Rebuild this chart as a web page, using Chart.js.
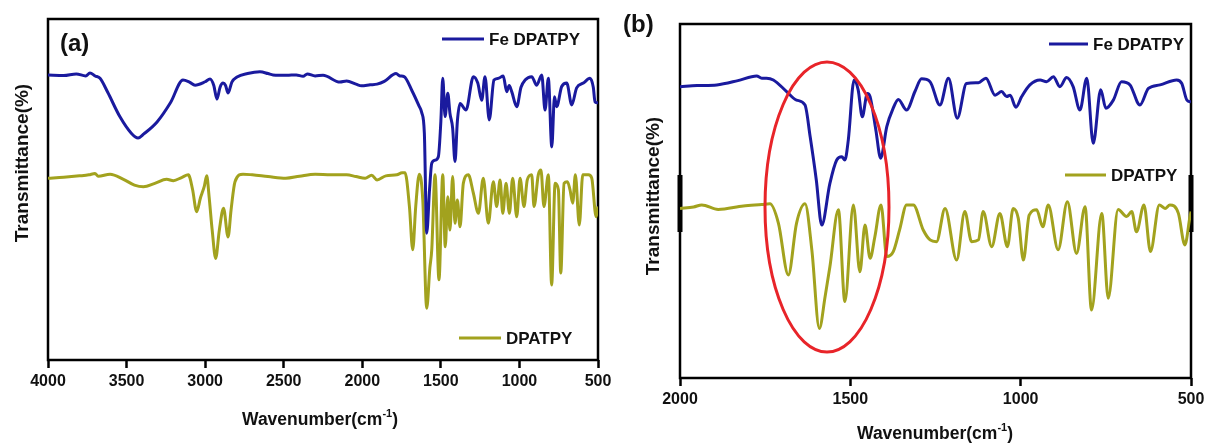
<!DOCTYPE html>
<html>
<head>
<meta charset="utf-8">
<script src="https://cdn.jsdelivr.net/npm/chart.js@4/dist/chart.umd.min.js"></script>
<style>
    html, body { margin: 0; padding: 0; background: #ffffff; }
    #wrap { position: relative; width: 1205px; height: 444px; }
    #wrap canvas { position: absolute; left: 0; top: 0; }
</style>
</head>
<body>
<div id="wrap">
    <canvas id="chartA" width="1205" height="444"></canvas>
    <canvas id="chartB" width="1205" height="444"></canvas>
</div>
<script>
/* ========================================
   FTIR spectra - Fe DPATPY vs DPATPY
   ======================================== */

// Tick labels (wavenumber, cm-1)
const ticksA = [4000, 3500, 3000, 2500, 2000, 1500, 1000, 500];
const ticksB = [2000, 1500, 1000, 500];

// Panel (a): Fe DPATPY
const feWaveA = [4000, 3900, 3820, 3760, 3733, 3700, 3669, 3620, 3542, 3470, 3427, 3390, 3306, 3220, 3141, 3100,
    3064, 3000, 2969, 2945, 2925, 2905, 2886, 2870, 2854, 2830, 2797, 2730, 2651, 2600, 2568, 2480, 2420, 2377,
    2350, 2300, 2250, 2142, 2100, 2040, 2005, 1950, 1906, 1860, 1785, 1760, 1734, 1683, 1639, 1622, 1605, 1590,
    1572, 1558, 1537, 1516, 1500, 1488, 1473, 1456, 1442, 1425, 1410, 1395, 1378, 1340, 1293, 1265, 1240, 1219,
    1192, 1162, 1134, 1103, 1081, 1065, 1049, 1017, 990, 964, 922, 890, 858, 837, 816, 794, 777, 763, 731, 699,
    667, 636, 593, 551, 530, 519, 500];
const feTransA = [83.6, 83.4, 83.9, 83.3, 84.2, 83.3, 82.6, 78.5, 71.3, 66.5, 65.1, 66.3, 69.8, 75.5, 82.1, 81.5,
    80.6, 81.6, 82.4, 80.5, 76.5, 80.0, 81.2, 80.5, 78.3, 81.5, 83.0, 84.0, 84.5, 84.0, 83.6, 83.5, 83.6, 83.2,
    83.9, 83.3, 83.5, 81.5, 81.8, 80.9, 80.4, 80.7, 80.9, 81.7, 84.0, 83.3, 83.1, 78.9, 74.5, 72.6, 66.5, 37.2,
    50.0, 57.7, 58.6, 59.6, 70.0, 82.6, 71.4, 78.2, 72.3, 68.0, 58.2, 70.0, 75.2, 73.3, 83.1, 81.2, 76.2, 83.1,
    70.4, 82.1, 82.6, 83.3, 78.7, 80.5, 78.7, 74.3, 80.0, 82.1, 83.1, 80.6, 83.6, 73.3, 82.6, 62.5, 77.2, 74.3,
    80.2, 81.2, 74.8, 79.8, 81.2, 82.6, 80.0, 75.7, 75.4];

// Panel (a): DPATPY
const dpWaveA = [4000, 3900, 3800, 3740, 3701, 3680, 3605, 3520, 3450, 3393, 3320, 3245, 3202, 3150, 3107, 3080,
    3054, 3030, 3020, 3005, 2990, 2975, 2955, 2933, 2910, 2883, 2854, 2835, 2810, 2759, 2700, 2600, 2487, 2400,
    2300, 2200, 2100, 2040, 1982, 1940, 1906, 1850, 1780, 1747, 1728, 1700, 1679, 1660, 1637, 1615, 1590, 1570,
    1558, 1537, 1512, 1488, 1472, 1456, 1442, 1425, 1410, 1395, 1378, 1357, 1325, 1293, 1261, 1230, 1198, 1166,
    1145, 1123, 1106, 1085, 1064, 1043, 1017, 996, 971, 950, 922, 907, 880, 863, 844, 816, 795, 773, 752, 737,
    716, 695, 678, 661, 644, 619, 597, 561, 540, 512, 500];
const dpTransA = [53.3, 53.6, 54.0, 54.3, 54.7, 53.9, 54.5, 53.0, 51.3, 50.8, 51.8, 53.0, 52.6, 53.5, 54.3, 50.0,
    43.5, 47.5, 48.9, 51.0, 54.0, 48.0, 38.0, 29.8, 38.0, 44.5, 36.1, 44.0, 52.3, 54.5, 54.3, 53.8, 53.3, 53.9,
    54.5, 54.3, 54.3, 53.8, 53.3, 54.2, 52.8, 54.0, 54.3, 54.9, 54.9, 45.0, 32.3, 45.0, 54.5, 46.9, 15.2, 27.0,
    32.3, 54.3, 23.5, 54.3, 33.2, 47.9, 38.1, 53.8, 40.1, 46.9, 39.1, 51.8, 54.3, 48.9, 43.0, 53.3, 40.1, 52.3,
    45.0, 52.8, 43.0, 51.8, 43.0, 53.3, 42.0, 53.3, 45.0, 52.8, 54.3, 45.0, 54.3, 55.7, 45.0, 54.3, 22.0, 51.8,
    49.9, 25.5, 51.8, 52.3, 49.9, 46.0, 54.3, 39.6, 54.3, 54.3, 53.4, 42.0, 45.0];

// Panel (b): Fe DPATPY
const feWaveB = [2000, 1950, 1892, 1830, 1775, 1760, 1746, 1726, 1687, 1658, 1633, 1618, 1600, 1584, 1560, 1540,
    1525, 1516, 1506, 1489, 1477, 1465, 1450, 1442, 1425, 1411, 1393, 1375, 1359, 1335, 1310, 1291, 1266, 1237,
    1212, 1186, 1159, 1124, 1102, 1075, 1056, 1041, 1031, 1014, 997, 973, 943, 924, 904, 885, 865, 846, 826,
    806, 787, 765, 750, 728, 704, 679, 650, 625, 591, 542, 527, 512, 500];
const feTransB = [82.3, 82.6, 82.8, 84.0, 85.3, 84.7, 84.7, 84.2, 80.9, 78.5, 77.1, 68.2, 56.0, 43.2, 55.0, 61.6,
    62.5, 61.6, 67.2, 84.2, 81.4, 73.8, 80.4, 79.5, 70.0, 62.1, 71.0, 76.0, 78.7, 75.7, 81.0, 84.5, 83.7, 77.1,
    84.7, 73.4, 83.2, 83.4, 84.7, 79.9, 80.9, 79.5, 79.9, 76.5, 79.5, 82.8, 84.2, 83.7, 85.1, 82.3, 84.9, 82.3,
    75.7, 84.7, 66.3, 81.4, 76.2, 78.5, 83.7, 82.8, 77.1, 81.8, 82.8, 84.2, 83.2, 78.5, 78.0];

// Panel (b): DPATPY
const dpWaveB = [2000, 1960, 1936, 1888, 1814, 1760, 1736, 1711, 1682, 1658, 1633, 1613, 1591, 1574, 1560, 1535,
    1516, 1491, 1472, 1457, 1442, 1428, 1410, 1393, 1374, 1355, 1335, 1315, 1286, 1266, 1247, 1222, 1188, 1164,
    1144, 1124, 1110, 1085, 1061, 1039, 1022, 1007, 992, 975, 953, 935, 919, 890, 863, 836, 811, 792, 762, 743,
    714, 689, 674, 660, 638, 619, 593, 576, 562, 537, 518, 503, 500];
const dpTransB = [47.9, 48.3, 48.9, 47.6, 48.6, 49.0, 49.2, 43.7, 29.1, 43.7, 49.2, 36.2, 14.0, 23.0, 31.4, 47.5,
    21.6, 48.9, 30.0, 43.2, 33.8, 39.9, 48.9, 34.3, 35.7, 42.0, 48.9, 48.9, 41.8, 39.0, 38.5, 47.9, 33.3, 47.0,
    38.5, 39.0, 47.0, 37.1, 46.5, 37.1, 47.9, 45.1, 33.3, 46.0, 47.5, 42.7, 48.9, 36.2, 49.8, 35.2, 48.4, 19.2,
    46.5, 22.5, 47.6, 45.6, 47.0, 41.3, 48.9, 35.7, 48.9, 47.9, 48.9, 46.5, 37.6, 45.6, 47.0];

const seriesNames = ['Fe DPATPY', 'DPATPY'];
const blueColor = '#1a1a9e';
const oliveColor = '#a2a21e';
const FONT = '"Liberation Sans", Arial, sans-serif';

function toPoints(xs, ys) {
    return xs.map((x, i) => ({ x: x, y: ys[i] }));
}

// Frame, titles, legend entries and extra marks drawn on top of the chart
function decorPlugin(cfg) {
    return {
        id: 'decor',
        beforeDatasetsDraw(chart) {
            const ctx = chart.ctx;
            const a = chart.chartArea;
            ctx.save();
            ctx.strokeStyle = '#000000';
            ctx.lineWidth = 2.5;
            ctx.strokeRect(a.left, a.top, a.right - a.left, a.bottom - a.top);
            if (cfg.thick) {
                ctx.lineWidth = 5;
                ctx.beginPath();
                ctx.moveTo(a.left, cfg.thick[0]);
                ctx.lineTo(a.left, cfg.thick[1]);
                ctx.moveTo(a.right, cfg.thick[0]);
                ctx.lineTo(a.right, cfg.thick[1]);
                ctx.stroke();
            }
            ctx.restore();
        },
        afterDatasetsDraw(chart) {
            const ctx = chart.ctx;
            ctx.save();
            ctx.fillStyle = '#111111';

            // panel label
            ctx.font = 'bold 24px ' + FONT;
            ctx.textAlign = 'left';
            ctx.textBaseline = 'middle';
            ctx.fillText(cfg.panel, cfg.panelPos[0], cfg.panelPos[1]);

            // y title
            ctx.save();
            ctx.translate(cfg.yTitle[0], cfg.yTitle[1]);
            ctx.rotate(-Math.PI / 2);
            ctx.font = 'bold 19px ' + FONT;
            ctx.textAlign = 'center';
            ctx.textBaseline = 'alphabetic';
            ctx.fillText('Transmittance(%)', 0, 0);
            ctx.restore();

            // x title with superscript
            const main = 'Wavenumber(cm';
            const sup = '-1';
            ctx.font = 'bold 17.5px ' + FONT;
            const w1 = ctx.measureText(main).width;
            const w3 = ctx.measureText(')').width;
            ctx.font = 'bold 11px ' + FONT;
            const w2 = ctx.measureText(sup).width;
            let x0 = cfg.xTitle[0] - (w1 + w2 + w3) / 2;
            const yb = cfg.xTitle[1];
            ctx.textAlign = 'left';
            ctx.textBaseline = 'alphabetic';
            ctx.font = 'bold 17.5px ' + FONT;
            ctx.fillText(main, x0, yb);
            ctx.font = 'bold 11px ' + FONT;
            ctx.fillText(sup, x0 + w1, yb - 8);
            ctx.font = 'bold 17.5px ' + FONT;
            ctx.fillText(')', x0 + w1 + w2, yb);

            // legend entries
            ctx.font = 'bold 17px ' + FONT;
            ctx.textBaseline = 'middle';
            cfg.legend.forEach(item => {
                ctx.strokeStyle = item.color;
                ctx.lineWidth = 3;
                ctx.beginPath();
                ctx.moveTo(item.x1, item.y);
                ctx.lineTo(item.x2, item.y);
                ctx.stroke();
                ctx.fillStyle = '#111111';
                ctx.fillText(item.label, item.x2 + 5, item.y + 1);
            });

            // highlight ellipse
            if (cfg.ellipse) {
                const e = cfg.ellipse;
                ctx.strokeStyle = '#e82429';
                ctx.lineWidth = 3;
                ctx.beginPath();
                ctx.ellipse(e[0], e[1], e[2], e[3], 0, 0, Math.PI * 2);
                ctx.stroke();
            }
            ctx.restore();
        }
    };
}

function buildChart(id, opts) {
    const ctx = document.getElementById(id).getContext('2d');
    return new Chart(ctx, {
        type: 'line',
        data: {
            datasets: [{
                label: seriesNames[0],
                data: toPoints(opts.feWave, opts.feTrans),
                borderColor: blueColor,
                borderWidth: 3,
                pointRadius: 0,
                cubicInterpolationMode: 'monotone',
                fill: false
            }, {
                label: seriesNames[1],
                data: toPoints(opts.dpWave, opts.dpTrans),
                borderColor: oliveColor,
                borderWidth: 3,
                pointRadius: 0,
                cubicInterpolationMode: 'monotone',
                fill: false
            }]
        },
        options: {
            responsive: false,
            animation: false,
            devicePixelRatio: 1,
            layout: { padding: opts.padding },
            plugins: {
                legend: { display: false },
                tooltip: { enabled: false }
            },
            scales: {
                x: {
                    type: 'linear',
                    position: 'bottom',
                    reverse: true,
                    min: opts.ticks[opts.ticks.length - 1],
                    max: opts.ticks[0],
                    afterBuildTicks: scale => {
                        scale.ticks = opts.ticks.map(v => ({ value: v }));
                    },
                    afterFit: scale => {
                        scale.height = opts.xHeight;
                        scale.paddingLeft = 0;
                        scale.paddingRight = 0;
                    },
                    ticks: {
                        autoSkip: false,
                        maxRotation: 0,
                        padding: 4,
                        color: '#111111',
                        font: { family: FONT, size: 16, weight: 'bold' },
                        callback: v => String(v)
                    },
                    grid: {
                        drawOnChartArea: false,
                        drawTicks: true,
                        tickLength: 8,
                        tickWidth: 2.5,
                        tickColor: '#000000'
                    },
                    border: { display: false }
                },
                y: {
                    display: false,
                    min: 0,
                    max: 100
                }
            }
        },
        plugins: [decorPlugin(opts.decor)]
    });
}

buildChart('chartA', {
    feWave: feWaveA, feTrans: feTransA,
    dpWave: dpWaveA, dpTrans: dpTransA,
    ticks: ticksA,
    padding: { left: 48, right: 607, top: 19, bottom: 0 },
    xHeight: 84,
    decor: {
        panel: '(a)', panelPos: [60, 44],
        yTitle: [28, 163],
        xTitle: [320, 425],
        legend: [
            { label: seriesNames[0], color: blueColor, x1: 442, x2: 484, y: 39 },
            { label: seriesNames[1], color: oliveColor, x1: 459, x2: 501, y: 338 }
        ]
    }
});

buildChart('chartB', {
    feWave: feWaveB, feTrans: feTransB,
    dpWave: dpWaveB, dpTrans: dpTransB,
    ticks: ticksB,
    padding: { left: 680, right: 14, top: 24, bottom: 0 },
    xHeight: 66,
    decor: {
        panel: '(b)', panelPos: [623, 25],
        yTitle: [659, 196],
        xTitle: [935, 439],
        thick: [175, 232],
        ellipse: [827, 207, 62, 145],
        legend: [
            { label: seriesNames[0], color: blueColor, x1: 1049, x2: 1088, y: 44 },
            { label: seriesNames[1], color: oliveColor, x1: 1065, x2: 1106, y: 175 }
        ]
    }
});
</script>
</body>
</html>
